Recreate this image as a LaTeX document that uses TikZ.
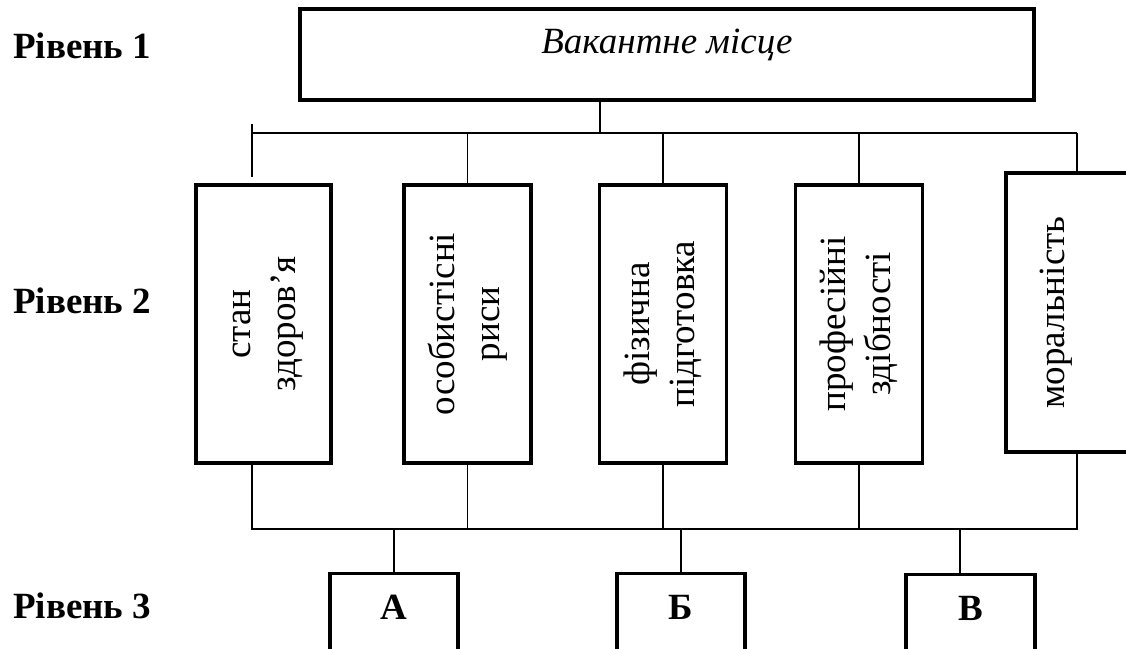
\documentclass[tikz,border=0pt]{standalone}
\usepackage{fontspec}
\setmainfont{Liberation Serif}
\usepackage{graphicx}
\newcommand{\vtext}[1]{\rotatebox{90}{\begin{tabular}{@{}c@{}}#1\end{tabular}}}

\begin{document}
\begin{tikzpicture}[x=1pt,y=-1pt,
    box/.style={draw,line width=3.2pt,inner sep=0pt},
    big/.style={font=\fontsize{37}{45}\selectfont},
    vbox/.style={box,big,minimum width=127pt,minimum height=278pt},
    lowbox/.style={box,anchor=north,minimum width=128pt,text height=46pt,text depth=82pt,font=\fontsize{37}{45}\selectfont\bfseries},
    conn/.style={line width=1.9pt},
    lvl/.style={anchor=base west,inner sep=0pt,font=\fontsize{37}{45}\selectfont\bfseries}]
    \useasboundingbox (0,0) rectangle (1126,648);
    \clip (0,0) rectangle (1126,648);

    \node[lvl] (l1) at (13,58) {Рівень 1};
    \node[lvl] (l2) at (13,313) {Рівень 2};
    \node[lvl] (l3) at (13,618) {Рівень 3};

    \node[box,minimum width=734pt,text height=44pt,text depth=47pt,font=\fontsize{37}{45}\selectfont\itshape] (top) at (667,54.5) {Вакантне місце};

    \node[vbox,minimum width=135pt] (b1) at (263.5,324) {\vtext{стан\\здоров’я}};
    \node[vbox] (b2) at (467.5,324) {\vtext{особистісні\\риси}};
    \node[vbox] (b3) at (663,324) {\vtext{фізична\\підготовка}};
    \node[vbox] (b4) at (859,324) {\vtext{професійні\\здібності}};
    \node[box,minimum width=142pt,minimum height=279pt] (b5) at (1077,312.5) {};
    \node[big] (m5) at (1055,312.5) {\vtext{моральність}};

    \node[lowbox] (ka) at (394,572) {А};
    \node[lowbox] (kb) at (681,572) {Б};
    \node[lowbox,minimum width=129pt] (kv) at (970.5,573) {В};

    \coordinate (t0) at (600,133);
    \coordinate (tL) at (252,133);
    \coordinate (tR) at (1077,133);
    \coordinate (k1) at (252,124);
    \coordinate (k2) at (252,177);
    \draw[conn] (top.south -| t0) -- (t0);
    \draw[conn] (tL) -- (tR);
    \draw[conn] (k1) -- (k2);
    \foreach \b in {b2,b3,b4,b5}
        \draw[conn] (\b.north) -- (\b.north |- tL);

    \coordinate (dL) at (252,529);
    \coordinate (dR) at (1077,529);
    \coordinate (dV) at (960,529);
    \draw[conn] (b1.south -| dL) -- (dL) -- (dR) -- (b5.south);
    \foreach \b in {b2,b3,b4}
        \draw[conn] (\b.south) -- (\b.south |- dL);
    \draw[conn] (ka.north) -- (ka.north |- dL);
    \draw[conn] (kb.north) -- (kb.north |- dL);
    \draw[conn] (dV) -- (dV |- kv.north);
\end{tikzpicture}
\end{document}
